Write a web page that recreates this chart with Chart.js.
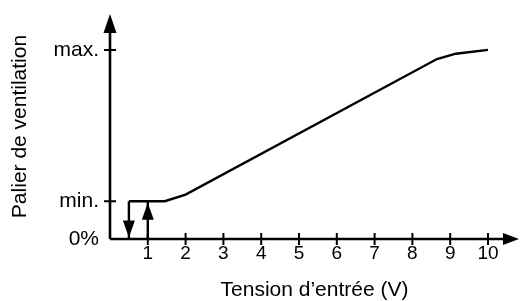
<!DOCTYPE html>
<html>
<head>
<meta charset="utf-8">
<script src="https://cdn.jsdelivr.net/npm/chart.js@4"></script>
<style>
  html, body { margin: 0; padding: 0; background: #fff; }
  canvas { display: block; }
</style>
</head>
<body>
<canvas id="myChart" width="520" height="301"></canvas>
<script>
const FONT = "'Liberation Sans', Arial, sans-serif";

// main characteristic curve (input voltage -> ventilation level)
const curveX = [0.5, 1.45, 2, 8.65, 9.15, 10];
const curveY = [20, 20, 23.5, 95.2, 98, 100];

// hysteresis arrows: x position, start level, end level
const arrowX = [0.5, 1];
const arrowFrom = [20, 0];
const arrowTo = [0, 20];

const xTicks = [1, 2, 3, 4, 5, 6, 7, 8, 9, 10];
const yTickVals = [0, 20, 100];
const yTickLabels = ['0%', 'min.', 'max.'];
const xTitle = 'Tension d’entrée (V)';
const yTitle = 'Palier de ventilation';

const drawHead = (ctx, tx, ty, dx, dy, len, half) => {
    const bx = tx - dx * len, by = ty - dy * len;
    ctx.beginPath();
    ctx.moveTo(tx, ty);
    ctx.lineTo(bx - dy * half, by + dx * half);
    ctx.lineTo(bx + dy * half, by - dx * half);
    ctx.closePath();
    ctx.fill();
};

const axisPlugin = {
    id: 'axisPlugin',
    afterDatasetsDraw(chart) {
        const { ctx, scales: { x, y } } = chart;
        const x0 = x.getPixelForValue(0), y0 = y.getPixelForValue(0);
        const xEnd = x.getPixelForValue(x.max), yEnd = y.getPixelForValue(y.max);
        ctx.save();
        ctx.strokeStyle = '#000';
        ctx.fillStyle = '#000';

        // axes
        ctx.lineWidth = 2.6;
        ctx.beginPath();
        ctx.moveTo(x0, y0);
        ctx.lineTo(xEnd - 10, y0);
        ctx.moveTo(x0, y0);
        ctx.lineTo(x0, yEnd + 12);
        ctx.stroke();
        drawHead(ctx, xEnd, y0, 1, 0, 16, 6);
        drawHead(ctx, x0, yEnd, 0, -1, 19, 6.5);

        // tick marks crossing the axes
        ctx.lineWidth = 2;
        ctx.beginPath();
        xTicks.forEach(v => {
            const px = x.getPixelForValue(v);
            ctx.moveTo(px, y0 - 6);
            ctx.lineTo(px, y0 + 6);
        });
        yTickVals.filter(v => v > 0).forEach(v => {
            const py = y.getPixelForValue(v);
            ctx.moveTo(x0 - 6, py);
            ctx.lineTo(x0 + 6, py);
        });
        ctx.stroke();

        // hysteresis arrow heads
        arrowX.forEach((v, i) => {
            const px = x.getPixelForValue(v);
            const py = y.getPixelForValue(arrowTo[i]);
            const dir = arrowTo[i] > arrowFrom[i] ? -1 : 1;
            drawHead(ctx, px, py + (dir < 0 ? 1.5 : -1.5), 0, dir, 17, 6);
        });
        ctx.restore();
    }
};

const datasets = [{
    data: curveX.map((v, i) => ({ x: v, y: curveY[i] })),
    showLine: true,
    borderColor: '#000',
    borderWidth: 2.4,
    pointRadius: 0,
    tension: 0
}];
arrowX.forEach((v, i) => {
    datasets.push({
        data: [{ x: v, y: arrowFrom[i] }, { x: v, y: arrowTo[i] }],
        showLine: true,
        borderColor: '#000',
        borderWidth: 2.4,
        pointRadius: 0
    });
});

new Chart(document.getElementById('myChart'), {
    type: 'scatter',
    data: { datasets },
    options: {
        responsive: false,
        animation: false,
        layout: { padding: { top: 14, right: 1, bottom: 0, left: 0 } },
        plugins: { legend: { display: false }, tooltip: { enabled: false } },
        scales: {
            x: {
                type: 'linear',
                min: 0,
                max: 10.82,
                border: { display: false },
                grid: { display: false, drawTicks: false },
                afterBuildTicks: s => { s.ticks = xTicks.map(v => ({ value: v })); },
                afterFit: s => { s.height = 62; },
                ticks: { color: '#000', font: { family: FONT, size: 19 }, padding: 3, maxRotation: 0, autoSkip: false },
                title: { display: true, text: xTitle, color: '#000', font: { family: FONT, size: 21, lineHeight: 1 }, padding: { top: 12, bottom: 0 } }
            },
            y: {
                type: 'linear',
                min: 0,
                max: 119,
                border: { display: false },
                grid: { display: false, drawTicks: false },
                afterBuildTicks: s => { s.ticks = yTickVals.map(v => ({ value: v })); },
                afterFit: s => { s.width = 110; s.paddingTop = 0; s.paddingBottom = 0; },
                ticks: {
                    color: '#000', font: { family: FONT, size: 21 }, padding: 11, autoSkip: false,
                    callback: v => yTickLabels[yTickVals.indexOf(v)]
                },
                title: { display: true, text: yTitle, color: '#000', font: { family: FONT, size: 21, lineHeight: 1 }, padding: { top: 9.5, bottom: 0 } }
            }
        }
    },
    plugins: [axisPlugin]
});
</script>
</body>
</html>
